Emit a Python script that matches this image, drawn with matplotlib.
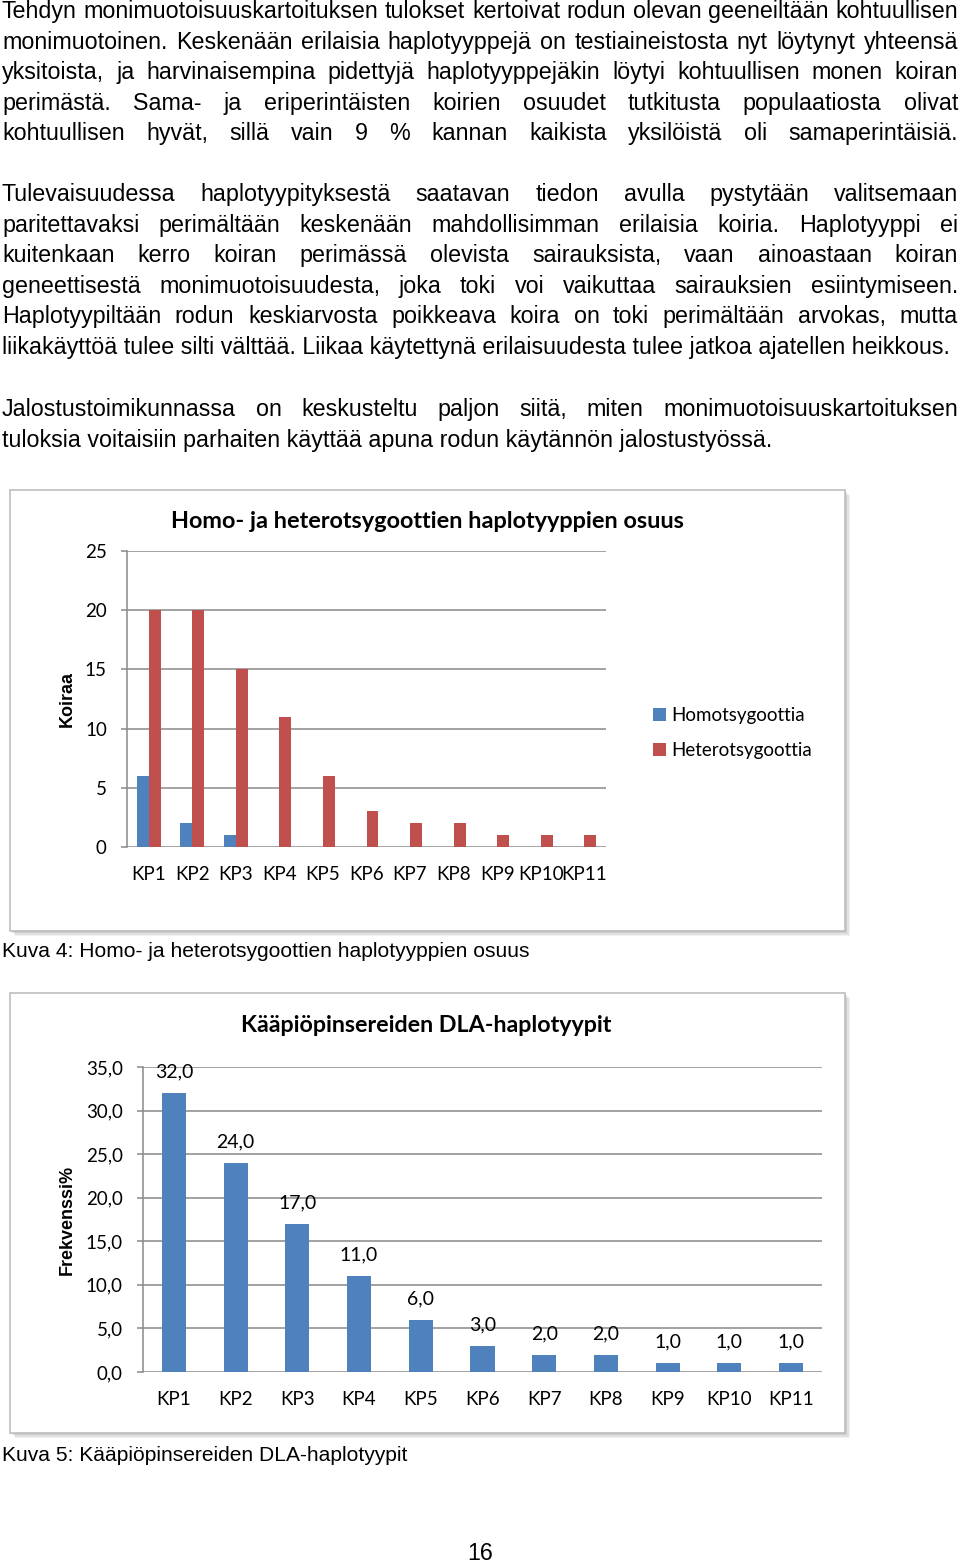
import matplotlib.pyplot as plt
from matplotlib.patches import Rectangle

W, H = 960, 1564

# --- data -------------------------------------------------------------
haplotypes = ['KP1', 'KP2', 'KP3', 'KP4', 'KP5', 'KP6', 'KP7', 'KP8', 'KP9', 'KP10', 'KP11']
homozygous = [6, 2, 1, 0, 0, 0, 0, 0, 0, 0, 0]
heterozygous = [20, 20, 15, 11, 6, 3, 2, 2, 1, 1, 1]
frequency = [32.0, 24.0, 17.0, 11.0, 6.0, 3.0, 2.0, 2.0, 1.0, 1.0, 1.0]

yticks1 = [0, 5, 10, 15, 20, 25]
yticks2 = [0, 5, 10, 15, 20, 25, 30, 35]

paragraphs = [
    ["Tehdyn monimuotoisuuskartoituksen tulokset kertoivat rodun olevan geeneiltään kohtuullisen",
     "monimuotoinen. Keskenään erilaisia haplotyyppejä on testiaineistosta nyt löytynyt yhteensä",
     "yksitoista, ja harvinaisempina pidettyjä haplotyyppejäkin löytyi kohtuullisen monen koiran",
     "perimästä. Sama- ja eriperintäisten koirien osuudet tutkitusta populaatiosta olivat",
     "kohtuullisen hyvät, sillä vain 9 % kannan kaikista yksilöistä oli samaperintäisiä."],
    ["Tulevaisuudessa haplotyypityksestä saatavan tiedon avulla pystytään valitsemaan",
     "paritettavaksi perimältään keskenään mahdollisimman erilaisia koiria. Haplotyyppi ei",
     "kuitenkaan kerro koiran perimässä olevista sairauksista, vaan ainoastaan koiran",
     "geneettisestä monimuotoisuudesta, joka toki voi vaikuttaa sairauksien esiintymiseen.",
     "Haplotyypiltään rodun keskiarvosta poikkeava koira on toki perimältään arvokas, mutta",
     "liikakäyttöä tulee silti välttää. Liikaa käytettynä erilaisuudesta tulee jatkoa ajatellen heikkous."],
    ["Jalostustoimikunnassa on keskusteltu paljon siitä, miten monimuotoisuuskartoituksen",
     "tuloksia voitaisiin parhaiten käyttää apuna rodun käytännön jalostustyössä."],
]
# last line of paragraph 1 is justified in the original, others are not
last_justified = [True, False, False]
para_baselines = [18, 201, 416]
line_step = 30.6

BLUE = '#4F81BD'
RED = '#C0504D'
GRID = '#898989'
BODY = 'Liberation Sans'
CHART = 'Lato'

fig = plt.figure(figsize=(W / 100, H / 100), dpi=100)
r = fig.canvas.get_renderer()

# full-page axes in pixel coordinates for text and frames
page = fig.add_axes([0, 0, 1, 1])
page.set_xlim(0, W)
page.set_ylim(H, 0)
page.axis('off')


def px_rect(left, top, right, bottom):
    return [left / W, 1 - bottom / H, (right - left) / W, (bottom - top) / H]


def fit_size(s, width, **kw):
    t = page.text(0, 0, s, fontsize=10, **kw)
    w = t.get_window_extent(r).width
    t.remove()
    return 10 * width / w


body_fs = fit_size(paragraphs[1][-1], 950, family=BODY)


def draw_line(s, y, justify):
    if not justify:
        page.text(2, y, s, fontsize=body_fs, family=BODY, va='baseline')
        return
    words = s.split()
    texts = [page.text(0, y, w, fontsize=body_fs, family=BODY, va='baseline') for w in words]
    widths = [t.get_window_extent(r).width for t in texts]
    gap = (958 - 2 - sum(widths)) / (len(words) - 1)
    x = 2
    for t, w in zip(texts, widths):
        t.set_x(x)
        x += w + gap


for p, lines in enumerate(paragraphs):
    for i, line in enumerate(lines):
        last = i == len(lines) - 1
        draw_line(line, para_baselines[p] + i * line_step, last_justified[p] if last else True)


def frame(left, top, right, bottom):
    # soft shadow then white box
    for k, a in enumerate([0.10, 0.14, 0.20]):
        off = 5 - k * 1.5
        page.add_patch(Rectangle((left + off, top + off), right - left, bottom - top,
                                 facecolor='#808080', edgecolor='none', alpha=a, zorder=1))
    page.add_patch(Rectangle((left, top), right - left, bottom - top,
                             facecolor='white', edgecolor='#BDBDBD', lw=1.2, zorder=2))


def style_axes(ax, yticks, ylabels):
    ax.set_facecolor('none')
    for s in ['top', 'right', 'bottom']:
        ax.spines[s].set_visible(False)
    ax.spines['left'].set_color(GRID)
    ax.spines['left'].set_linewidth(1.1)
    ax.set_yticks(yticks, ylabels)
    ax.set_ylim(yticks[0], yticks[-1])
    ax.set_xlim(-0.5, len(haplotypes) - 0.5)
    ax.set_xticks(range(len(haplotypes)), haplotypes)
    ax.grid(axis='y', color=GRID, lw=1.1)
    ax.set_axisbelow(True)
    ax.tick_params(axis='y', length=4, color=GRID, width=1.1, pad=10.5, labelsize=13.5)
    ax.tick_params(axis='x', length=0, pad=14, labelsize=13.5)
    for lbl in ax.get_xticklabels() + ax.get_yticklabels():
        lbl.set_family(CHART)


# --- chart 1 ----------------------------------------------------------
frame(10, 490, 845, 931)
ax1 = fig.add_axes(px_rect(127, 551, 606, 847))
x = range(len(haplotypes))
bw = 0.275
b1 = ax1.bar([i - bw / 2 for i in x], homozygous, width=bw, color=BLUE, label='Homotsygoottia')
b2 = ax1.bar([i + bw / 2 for i in x], heterozygous, width=bw, color=RED, label='Heterotsygoottia')
style_axes(ax1, yticks1, [str(v) for v in yticks1])
t1 = 'Homo- ja heterotsygoottien haplotyyppien osuus'
page.text(427, 522, t1, ha='center', va='center', family=CHART, weight='bold',
          fontsize=fit_size(t1, 514, family=CHART, weight='bold'), zorder=5)
page.text(67, 699, 'Koiraa', rotation=90, ha='center', va='center', family=BODY,
          weight='bold', fontsize=13, zorder=5)
leg = ax1.legend(loc='center left', bbox_to_anchor=(644 / W, 1 - 733 / H),
                 bbox_transform=fig.transFigure, frameon=False, fontsize=13.5,
                 handlelength=0.65, handleheight=0.65, handletextpad=0.3,
                 labelspacing=0.95, borderpad=0)
for t in leg.get_texts():
    t.set_family(CHART)

cap1 = 'Kuva 4: Homo- ja heterotsygoottien haplotyyppien osuus'
page.text(2, 957, cap1, va='baseline', family=BODY, fontsize=fit_size(cap1, 527, family=BODY))

# --- chart 2 ----------------------------------------------------------
frame(10, 993, 845, 1433)
ax2 = fig.add_axes(px_rect(143, 1067, 822, 1372))
bars = ax2.bar(x, frequency, width=0.39, color=BLUE)
style_axes(ax2, yticks2, [f'{v:.1f}'.replace('.', ',') for v in yticks2])
ax2.bar_label(bars, labels=[f'{v:.1f}'.replace('.', ',') for v in frequency],
              padding=9, fontsize=14, family=CHART)
t2 = 'Kääpiöpinsereiden DLA-haplotyypit'
page.text(426, 1026, t2, ha='center', va='center', family=CHART, weight='bold',
          fontsize=fit_size(t2, 372, family=CHART, weight='bold'), zorder=5)
page.text(67, 1220, 'Frekvenssi%', rotation=90, ha='center', va='center', family=BODY,
          weight='bold', fontsize=13, zorder=5)

cap2 = 'Kuva 5: Kääpiöpinsereiden DLA-haplotyypit'
page.text(2, 1461, cap2, va='baseline', family=BODY, fontsize=fit_size(cap2, 405, family=BODY))

page.text(480, 1560, '16', ha='center', va='baseline', family=BODY, fontsize=body_fs)

fig.savefig('out.png', dpi=100)
